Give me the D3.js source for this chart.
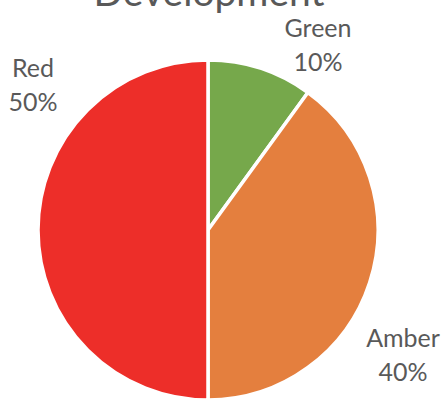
<!DOCTYPE html>
<html>
<head>
<meta charset="utf-8">
<script src="https://cdn.jsdelivr.net/npm/d3@7/dist/d3.min.js"></script>
<style>
  html, body { margin: 0; padding: 0; background: #fff; }
  svg { display: block; }
</style>
</head>
<body>
<svg id="chart" width="445" height="399"></svg>
<script>
// RAG status split for the Development workstream
const title = "Development";
const categories = ["Green", "Amber", "Red"];
const values = [10, 40, 50];
const colors = ["#76a84b", "#e47f3e", "#ed2e29"];

const width = 445, height = 399;
const cx = 208, cy = 230, radius = 170;
const font = "Lato, 'Open Sans', sans-serif";
const textColor = "#595959";

const svg = d3.select("#chart");

svg.append("text")
  .attr("x", 209)
  .attr("y", 6)
  .attr("text-anchor", "middle")
  .attr("font-family", font)
  .attr("font-size", 39)
  .attr("fill", textColor)
  .text(title);

const data = categories.map((c, i) => ({ name: c, value: values[i], color: colors[i] }));

const pie = d3.pie().sort(null).value(d => d.value);
const arcs = pie(data);
const arc = d3.arc().innerRadius(0).outerRadius(radius);

const g = svg.append("g").attr("transform", `translate(${cx},${cy})`);

g.selectAll("path")
  .data(arcs)
  .join("path")
  .attr("d", arc)
  .attr("fill", d => d.data.color)
  .attr("stroke", "#fff")
  .attr("stroke-width", 3.5)
  .attr("stroke-linejoin", "round");

// Labels sit just outside the rim, offset toward each slice's direction
const labelOffsets = { Green: [110, -193], Amber: [195, 117], Red: [-175, -153] };

const labels = g.selectAll("g.label")
  .data(arcs)
  .join("g")
  .attr("class", "label")
  .attr("transform", d => {
    const [x, y] = labelOffsets[d.data.name];
    return `translate(${x},${y})`;
  });

labels.append("text")
  .attr("text-anchor", "middle")
  .attr("font-family", font)
  .attr("font-size", 25)
  .attr("fill", textColor)
  .attr("y", 0)
  .text(d => d.data.name);

const total = d3.sum(values);
labels.append("text")
  .attr("text-anchor", "middle")
  .attr("font-family", font)
  .attr("font-size", 25)
  .attr("fill", textColor)
  .attr("y", 34)
  .text(d => Math.round(d.data.value / total * 100) + "%");
</script>
</body>
</html>
